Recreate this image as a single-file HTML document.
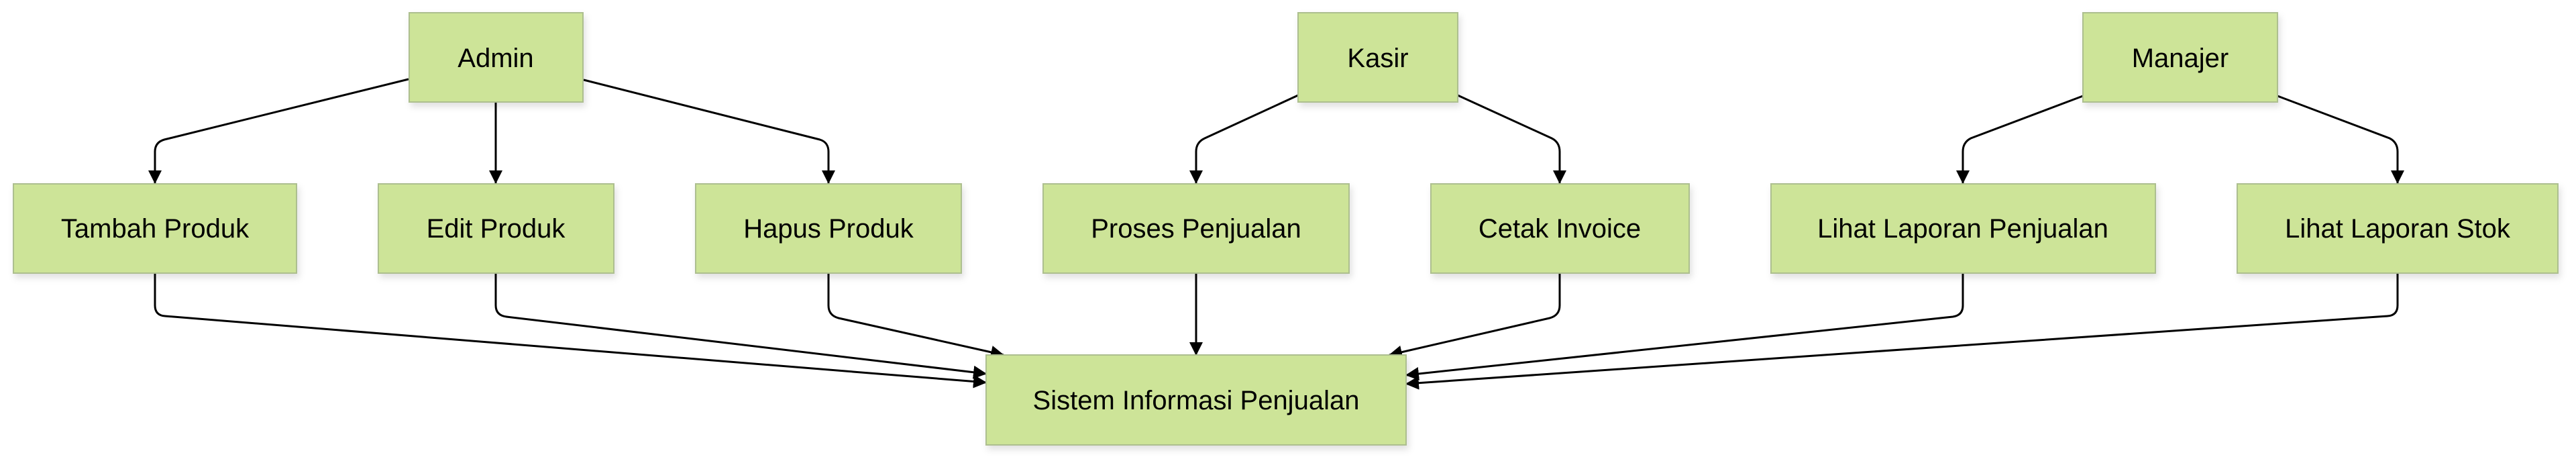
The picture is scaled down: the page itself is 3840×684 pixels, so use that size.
<!DOCTYPE html>
<html><head><meta charset="utf-8"><style>
html,body{margin:0;padding:0;background:#fff;}
svg{display:block;}
text{font-family:"Liberation Sans",Arial,sans-serif;font-size:40px;fill:#000;}
</style></head><body>
<svg width="3840" height="684" viewBox="0 0 3840 684" xmlns="http://www.w3.org/2000/svg">
<defs>
<marker id="a" viewBox="0 0 20 20" refX="19" refY="10" markerWidth="20" markerHeight="20" markerUnits="userSpaceOnUse" orient="auto">
<path d="M0,0 L20,10 L0,20 z" fill="#000"/>
</marker>
<filter id="s" x="-10%" y="-10%" width="130%" height="140%"><feDropShadow dx="3" dy="6" stdDeviation="5" flood-color="#000" flood-opacity="0.12"/></filter>
</defs>
<g fill="none" stroke="#000" stroke-width="3" marker-end="url(#a)">
<path d="M609,118 L245,208 Q231,212 231,226 L231,273"/>
<path d="M739,152 L739,273"/>
<path d="M870,119 L1222,208 Q1235,212 1235,226 L1235,273"/>
<path d="M1935,142 L1796,206 Q1783,212 1783,226 L1783,273"/>
<path d="M2173,142 L2313,206 Q2325,212 2325,226 L2325,273"/>
<path d="M3105,143 L2938,206 Q2926,212 2926,226 L2926,273"/>
<path d="M3395,143 L3562,206 Q3574,212 3574,226 L3574,273"/>
<path d="M231,407 L231,455 Q231,470 246,471 L1470,570"/>
<path d="M739,407 L739,455 Q739,470 755,472 L1470,557"/>
<path d="M1235,407 L1235,455 Q1235,470 1250,474 L1496,529"/>
<path d="M1783,407 L1783,529"/>
<path d="M2325,407 L2325,455 Q2325,470 2310,474 L2071,529"/>
<path d="M2926,407 L2926,455 Q2926,470 2911,472 L2096,559"/>
<path d="M3574,407 L3574,455 Q3574,470 3559,471 L2096,572"/>
</g>
<g fill="#cde498" stroke="#adbf8f" stroke-width="2" filter="url(#s)">
<rect x="610" y="19" width="259" height="133"/>
<rect x="1935" y="19" width="238" height="133"/>
<rect x="3105" y="19" width="290" height="133"/>
<rect x="20" y="274" width="422" height="133"/>
<rect x="564" y="274" width="351" height="133"/>
<rect x="1037" y="274" width="396" height="133"/>
<rect x="1555" y="274" width="456" height="133"/>
<rect x="2133" y="274" width="385" height="133"/>
<rect x="2640" y="274" width="573" height="133"/>
<rect x="3335" y="274" width="478" height="133"/>
<rect x="1470" y="529" width="626" height="134"/>
</g>
<g text-anchor="middle">
<text x="739" y="100">Admin</text>
<text x="2054" y="100">Kasir</text>
<text x="3250" y="100">Manajer</text>
<text x="231" y="354">Tambah Produk</text>
<text x="739" y="354">Edit Produk</text>
<text x="1235" y="354">Hapus Produk</text>
<text x="1783" y="354">Proses Penjualan</text>
<text x="2325" y="354">Cetak Invoice</text>
<text x="2926" y="354">Lihat Laporan Penjualan</text>
<text x="3574" y="354">Lihat Laporan Stok</text>
<text x="1783" y="610">Sistem Informasi Penjualan</text>
</g>
</svg>
</body></html>
